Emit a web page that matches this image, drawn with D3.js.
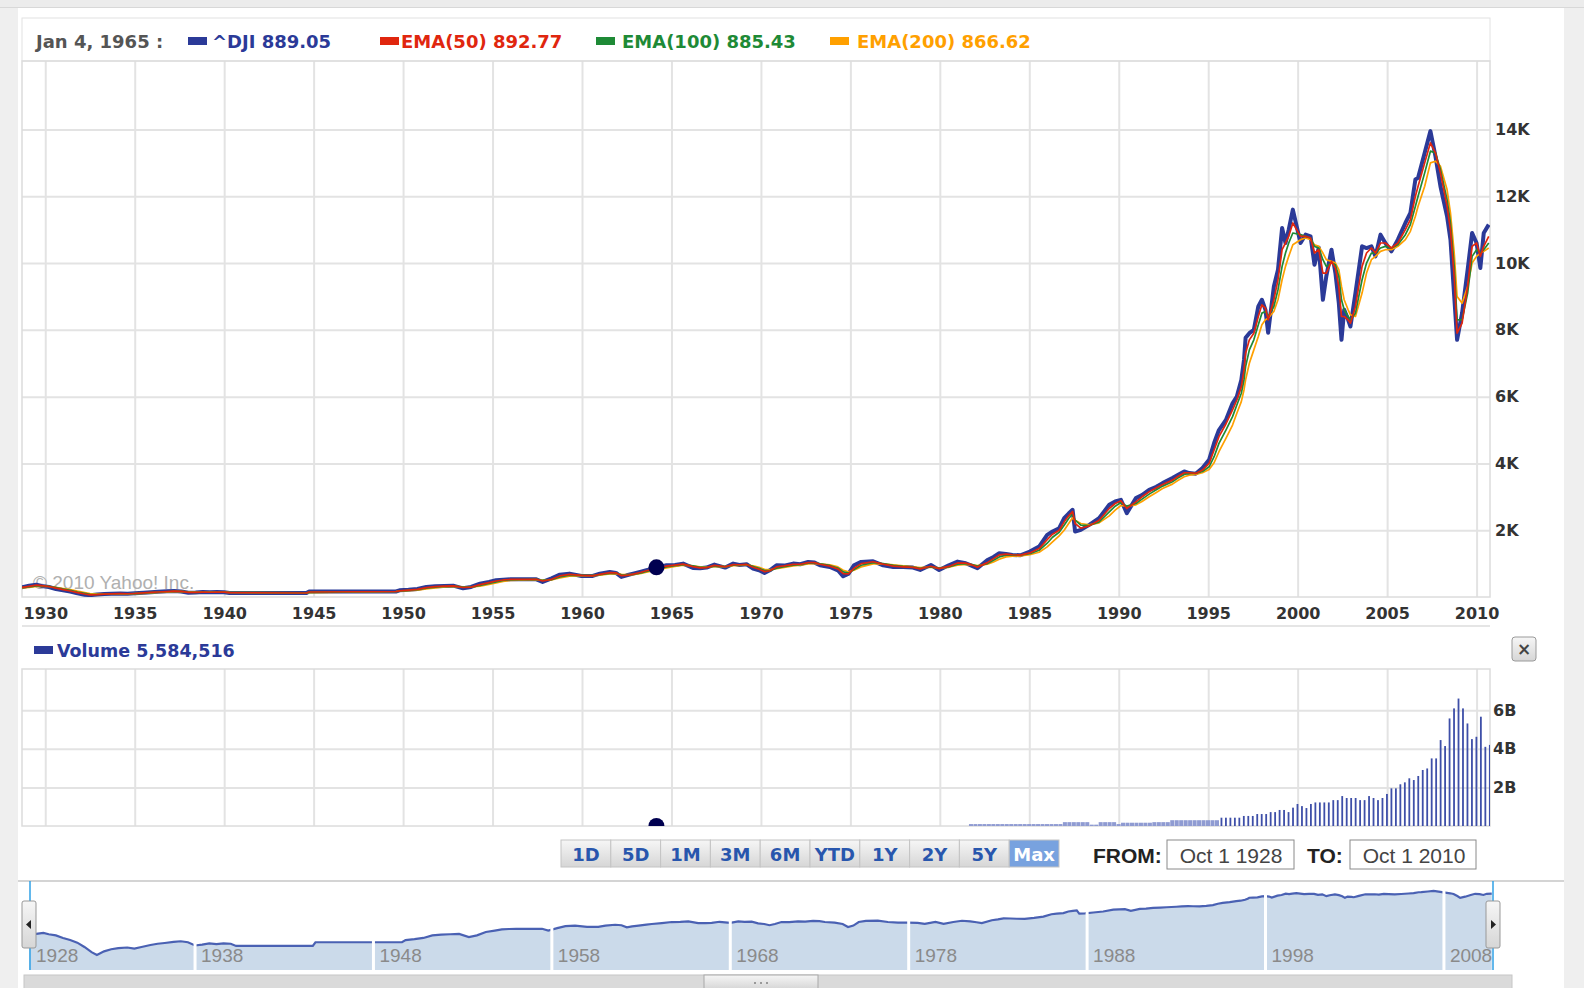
<!DOCTYPE html>
<html>
<head>
<meta charset="utf-8">
<script src="https://cdn.jsdelivr.net/npm/d3@7/dist/d3.min.js"></script>
<style>
  body { margin: 0; background: #fff; }
  svg { display: block; }
</style>
</head>
<body>
<script>
// ^DJI and its moving averages (decimal years)
var djiYears = [1928.7,1929.1,1929.5,1929.8,1930.2,1930.6,1931.0,1931.4,1931.8,1932.2,
  1932.5,1932.9,1933.3,1933.7,1934.2,1934.6,1935.0,1935.5,1935.9,1936.3,
  1936.8,1937.2,1937.6,1938.0,1938.4,1938.8,1939.2,1939.6,1940.0,1940.3,
  1944.6,1944.75,1949.6,1949.8,1950.3,1950.8,1951.3,1951.8,1952.3,1952.8,
  1953.35,1953.8,1954.3,1954.8,1955.2,1955.6,1956.0,1957.45,1957.8,1958.3,
  1958.76,1959.3,1959.97,1960.6,1961.0,1961.55,1961.9,1962.2,1962.5,1962.86,
  1963.3,1963.6,1964.16,1964.72,1965.2,1965.65,1966.2,1966.6,1966.96,1967.4,
  1968.0,1968.45,1968.8,1969.2,1969.56,1969.9,1970.2,1970.5,1970.87,1971.3,
  1971.8,1972.2,1972.64,1973.0,1973.3,1973.85,1974.3,1974.6,1974.9,1975.2,
  1975.6,1976.27,1976.83,1977.4,1977.95,1978.5,1978.9,1979.5,1979.96,1980.5,
  1980.99,1981.45,1981.8,1982.1,1982.66,1983.0,1983.32,1983.7,1984.06,1984.5,
  1985.03,1985.55,1986.0,1986.3,1986.67,1986.95,1987.2,1987.42,1987.56,1987.88,
  1988.35,1988.9,1989.47,1989.8,1990.12,1990.45,1990.96,1991.3,1991.7,1992.1,
  1992.45,1993.0,1993.3,1993.66,1993.94,1994.3,1994.68,1995.05,1995.33,1995.6,
  1995.99,1996.36,1996.6,1996.85,1997.0,1997.09,1997.3,1997.55,1997.8,1998.0,
  1998.2,1998.35,1998.67,1998.9,1999.13,1999.32,1999.5,1999.73,2000.16,2000.44,
  2000.72,2000.94,2001.18,2001.41,2001.6,2001.89,2002.11,2002.3,2002.45,2002.6,
  2002.82,2002.95,2003.23,2003.6,2003.85,2004.12,2004.35,2004.63,2004.9,2005.24,
  2005.6,2006.02,2006.3,2006.58,2006.73,2007.1,2007.42,2007.7,2007.98,2008.35,
  2008.54,2008.75,2008.91,2009.19,2009.5,2009.75,2010.0,2010.21,2010.4,2010.68];

var djiValues = [290,340,370,330,300,240,200,160,110,70,
  55,75,90,100,105,95,110,130,145,155,
  170,180,165,125,135,150,140,150,145,120,
  120,165,165,200,215,240,300,320,330,340,
  260,300,400,450,500,520,530,530,450,560,
  670,700,630,630,700,750,720,600,650,700,
  760,800,870,950,960,1000,870,860,880,970,
  880,1000,960,980,850,800,720,800,950,940,
  1000,980,1050,1030,950,900,800,620,700,950,
  1050,1070,950,900,900,880,810,960,810,950,
  1060,1010,930,860,1110,1200,1310,1290,1260,1250,
  1360,1510,1860,1960,2060,2360,2500,2610,1960,2010,
  2160,2360,2760,2860,2910,2510,2960,3050,3210,3300,
  3410,3560,3650,3760,3710,3690,3860,4110,4610,5000,
  5300,5800,6000,6500,7100,7760,7900,8000,8700,8900,
  8600,7910,9300,9800,11050,10600,11000,11600,10600,10850,
  10800,9950,10460,8900,9600,10400,9700,8800,7700,8600,
  8300,8100,9100,10500,10450,10500,10200,10850,10600,10350,
  10700,11200,11500,12500,12550,13300,13950,13200,12300,11400,
  10700,9000,7700,8500,9800,10900,10600,9850,10900,11150];

var ema50 = [285,320,355,340,315,265,220,180,130,90,
  65,70,85,95,100,97,105,122,138,150,
  163,175,168,140,136,145,142,147,146,130,
  120,150,165,185,208,230,280,310,325,335,
  285,295,370,430,480,510,525,530,480,530,
  630,680,650,635,680,730,725,640,645,685,
  740,785,850,925,955,985,910,870,878,945,
  905,970,965,975,890,830,760,785,900,930,
  975,980,1030,1030,980,925,840,700,690,860,
  1000,1055,985,925,905,885,840,920,850,915,
  1020,1015,960,895,1030,1150,1260,1285,1265,1255,
  1320,1450,1720,1880,2000,2250,2430,2560,2200,2060,
  2130,2300,2650,2800,2880,2650,2850,3000,3150,3270,
  3370,3500,3610,3720,3720,3700,3800,4000,4400,4800,
  5180,5600,5900,6300,6800,7300,7700,7900,8400,8750,
  8650,8300,8900,9500,10400,10600,10800,11200,10800,10800,
  10750,10300,10400,9700,9700,10050,9850,9300,8400,8400,
  8300,8200,8700,9900,10300,10450,10300,10600,10600,10450,
  10600,11000,11300,12000,12300,13000,13600,13300,12700,11700,
  11000,9600,7900,8200,9300,10500,10600,10200,10500,10800];

var ema100 = [280,305,335,335,320,280,240,200,150,110,
  80,75,82,92,98,97,102,115,130,143,
  157,168,167,148,140,143,142,145,145,135,
  121,140,165,178,198,220,262,295,315,328,
  300,298,345,405,455,495,515,528,495,520,
  600,655,650,640,668,710,715,665,655,675,
  720,765,830,900,940,970,930,890,885,925,
  910,950,958,968,915,860,790,790,865,910,
  955,970,1010,1020,990,945,870,750,715,820,
  950,1030,1000,945,915,895,860,900,865,900,
  985,1000,970,925,1000,1100,1200,1250,1255,1250,
  1295,1400,1610,1790,1940,2150,2350,2490,2300,2150,
  2140,2250,2550,2720,2830,2720,2800,2930,3080,3210,
  3320,3450,3560,3670,3700,3700,3760,3900,4200,4600,
  5000,5400,5750,6100,6500,6900,7400,7700,8150,8500,
  8550,8400,8700,9200,9900,10300,10600,10900,10850,10800,
  10750,10500,10450,10100,9900,10000,9950,9600,8900,8600,
  8400,8300,8500,9500,10000,10300,10300,10450,10500,10450,
  10550,10850,11150,11700,12000,12700,13350,13300,12800,11900,
  11200,9900,8300,8300,9100,10200,10400,10300,10400,10600];

var ema200 = [270,290,315,320,315,290,255,220,175,135,
  100,90,88,92,96,96,100,110,122,135,
  148,160,162,152,145,145,143,144,144,138,
  122,132,164,172,188,208,242,275,300,318,
  305,300,325,375,425,470,500,522,505,515,
  570,625,640,638,655,690,700,680,668,672,
  705,745,805,870,915,950,935,905,895,915,
  910,935,945,958,930,890,830,815,850,885,
  930,955,990,1005,995,960,900,800,755,800,
  900,990,995,960,930,905,880,895,875,890,
  950,975,965,940,980,1050,1130,1200,1220,1230,
  1265,1340,1500,1650,1830,2000,2200,2370,2300,2200,
  2160,2220,2430,2600,2740,2720,2760,2860,3000,3130,
  3250,3380,3490,3600,3650,3670,3720,3820,4020,4350,
  4750,5150,5500,5850,6200,6500,7000,7400,7800,8150,
  8300,8350,8550,8900,9500,9900,10200,10550,10700,10750,
  10700,10550,10500,10300,10100,10050,10000,9800,9300,8900,
  8600,8450,8400,9100,9700,10100,10200,10350,10400,10400,
  10500,10700,10950,11400,11700,12300,13000,13050,12900,12200,
  11500,10300,9000,8800,9300,10000,10200,10300,10350,10450];

var yearTicks = [1930,1935,1940,1945,1950,1955,1960,1965,1970,1975,1980,1985,1990,1995,2000,2005,2010];
var priceTicks = [2000,4000,6000,8000,10000,12000,14000];

// quarterly volume bars (billions of shares), first bar at volStart
var volStart = 1981.74;
var volValues = [0.1,0.1,0.1,0.1,0.1,0.1,0.1,0.1,0.1,0.1,
  0.1,0.1,0.1,0.1,0.1,0.1,0.1,0.1,0.1,0.1,
  0.1,0.2,0.2,0.2,0.2,0.2,0.2,0.07,0.07,0.2,
  0.2,0.2,0.2,0.1,0.17,0.17,0.17,0.17,0.17,0.17,
  0.17,0.2,0.2,0.2,0.2,0.3,0.3,0.3,0.3,0.3,
  0.3,0.3,0.3,0.3,0.3,0.3,
  0.43,0.43,0.43,0.43,0.43,0.52,0.52,0.52,0.62,0.62,
  0.62,0.72,0.72,0.83,0.83,0.72,0.95,1.14,1.03,0.93,
  1.14,1.22,1.22,1.22,1.22,1.34,1.34,1.55,1.45,1.45,
  1.45,1.34,1.34,1.55,1.45,1.34,1.45,1.66,1.95,1.95,
  2.16,2.26,2.47,2.38,2.59,2.9,2.98,3.5,3.5,4.45,
  4.14,5.57,6.09,6.6,6.09,5.31,4.5,4.62,5.66,4.1,4.2];
var volTicks = [2,4,6];

var seriesNames = ["^DJI", "EMA(50)", "EMA(100)", "EMA(200)"];
var seriesLabels = ["889.05", "892.77", "885.43", "866.62"];
var seriesColors = ["#2b3a98", "#e0260e", "#1e8a36", "#ffa000"];

var hoverDate = "Jan 4, 1965";
var hoverYear = 1964.16;
var hoverValue = 889.05;
var hoverVolume = "5,584,516";

var rangeButtons = ["1D","5D","1M","3M","6M","YTD","1Y","2Y","5Y","Max"];
var fromDate = "Oct 1 1928";
var toDate = "Oct 1 2010";
var navYears = [1928,1938,1948,1958,1968,1978,1988,1998,2008];

(function() {
  var width = 1584;
  var height = 988;
  var boldFont = "'DejaVu Sans', Verdana, sans-serif";
  var plainFont = "'Liberation Sans', Arial, sans-serif";

  var svg = d3.select("body").append("svg")
    .attr("width", width)
    .attr("height", height);

  var defs = svg.append("defs");
  var grad = defs.append("linearGradient").attr("id", "btn").attr("x1", 0).attr("x2", 0).attr("y1", 0).attr("y2", 1);
  grad.append("stop").attr("offset", "0%").attr("stop-color", "#f6f6f6");
  grad.append("stop").attr("offset", "100%").attr("stop-color", "#d6d6d6");

  // page frame
  svg.append("rect").attr("x", 0).attr("y", 0).attr("width", 18).attr("height", height).attr("fill", "#efefef");
  svg.append("rect").attr("x", 1564).attr("y", 0).attr("width", 20).attr("height", height).attr("fill", "#efefef");
  svg.append("rect").attr("x", 0).attr("y", 0).attr("width", width).attr("height", 7).attr("fill", "#ececec");
  svg.append("line").attr("x1", 0).attr("x2", width).attr("y1", 7.5).attr("y2", 7.5).attr("stroke", "#d8d8d8");

  var left = 22, right = 1490;
  var top = 61, bottom = 597;

  var x = d3.scaleLinear().domain([1928.7, 2010.75]).range([left, right]);
  var y = d3.scaleLinear().domain([0, 16050]).range([bottom, top]);

  // header legend box
  svg.append("rect").attr("x", left).attr("y", 18).attr("width", right - left).attr("height", top - 18)
    .attr("fill", "#fff").attr("stroke", "#e2e2e2");

  var header = svg.append("g").attr("font-family", boldFont).attr("font-weight", "bold").attr("font-size", 18);
  header.append("text").attr("x", 36).attr("y", 48).attr("fill", "#555").text(hoverDate + " :");
  var legendX = [188, 380, 596, 830];
  var legendTextX = [212, 401, 622, 857];
  seriesNames.forEach(function(name, i) {
    header.append("rect").attr("x", legendX[i]).attr("y", 37).attr("width", 19).attr("height", 8).attr("fill", seriesColors[i]);
    header.append("text").attr("x", legendTextX[i]).attr("y", 48).attr("fill", seriesColors[i])
      .text(name + " " + seriesLabels[i]);
  });

  // price grid
  var grid = svg.append("g").attr("class", "grid");
  grid.append("g").attr("transform", "translate(0," + bottom + ")")
    .call(d3.axisBottom(x).tickValues(yearTicks).tickSize(-(bottom - top)).tickFormat(""));
  grid.append("g").attr("transform", "translate(" + left + ",0)")
    .call(d3.axisRight(y).tickValues(priceTicks).tickSize(right - left).tickFormat(""));
  grid.selectAll(".domain").remove();
  grid.selectAll("line").attr("stroke", "#e3e3e3").attr("stroke-width", 2);

  svg.append("rect").attr("x", left).attr("y", top).attr("width", right - left).attr("height", bottom - top)
    .attr("fill", "none").attr("stroke", "#dcdcdc").attr("stroke-width", 1.5);

  svg.append("text").attr("x", 33).attr("y", 589).attr("font-family", plainFont).attr("font-size", 19)
    .attr("fill", "#b0b0b0").text("\u00a9 2010 Yahoo! Inc.");

  // price lines
  defs.append("clipPath").attr("id", "plotClip").append("rect")
    .attr("x", left).attr("y", top).attr("width", right - left).attr("height", bottom - top);
  var plot = svg.append("g").attr("clip-path", "url(#plotClip)");

  var series = [djiValues, ema50, ema100, ema200];
  var widths = [4, 1.7, 1.7, 1.7];
  var order = [0, 3, 2, 1];
  order.forEach(function(s) {
    var line = d3.line()
      .x(function(d, i) { return x(djiYears[i]); })
      .y(function(d) { return y(d); });
    plot.append("path").datum(series[s])
      .attr("d", line)
      .attr("fill", "none")
      .attr("stroke", seriesColors[s])
      .attr("stroke-width", widths[s])
      .attr("stroke-linejoin", "round");
  });

  plot.append("circle").attr("cx", x(hoverYear)).attr("cy", y(hoverValue)).attr("r", 8).attr("fill", "#000050");

  // y labels
  var yAxis = svg.append("g").attr("transform", "translate(" + (right + 3) + ",0)")
    .call(d3.axisRight(y).tickValues(priceTicks).tickSize(0).tickPadding(2)
      .tickFormat(function(d) { return (d / 1000) + "K"; }));
  yAxis.select(".domain").remove();
  yAxis.selectAll("text").attr("font-family", boldFont).attr("font-weight", "bold").attr("font-size", 16).attr("fill", "#333");

  // year labels band
  var xAxis = svg.append("g").attr("transform", "translate(0," + bottom + ")")
    .call(d3.axisBottom(x).tickValues(yearTicks).tickSize(0).tickPadding(11).tickFormat(d3.format("d")));
  xAxis.select(".domain").remove();
  xAxis.selectAll("text").attr("font-family", boldFont).attr("font-weight", "bold").attr("font-size", 16).attr("fill", "#333");
  svg.append("line").attr("x1", left).attr("x2", right).attr("y1", 626).attr("y2", 626).attr("stroke", "#dcdcdc").attr("stroke-width", 1.5);

  // volume panel
  var vTop = 669, vBottom = 826;
  var yv = d3.scaleLinear().domain([0, 8.13]).range([vBottom, vTop]);

  svg.append("rect").attr("x", 34).attr("y", 646).attr("width", 19).attr("height", 8).attr("fill", "#2b3a98");
  svg.append("text").attr("x", 57).attr("y", 657).attr("font-family", boldFont).attr("font-weight", "bold")
    .attr("font-size", 17.5).attr("fill", "#2b3a98").text("Volume " + hoverVolume);

  var vgrid = svg.append("g");
  vgrid.append("g").attr("transform", "translate(0," + vBottom + ")")
    .call(d3.axisBottom(x).tickValues(yearTicks).tickSize(-(vBottom - vTop)).tickFormat(""));
  vgrid.append("g").attr("transform", "translate(" + left + ",0)")
    .call(d3.axisRight(yv).tickValues(volTicks).tickSize(right - left).tickFormat(""));
  vgrid.selectAll(".domain").remove();
  vgrid.selectAll("line").attr("stroke", "#e3e3e3").attr("stroke-width", 2);
  svg.append("rect").attr("x", left).attr("y", vTop).attr("width", right - left).attr("height", vBottom - vTop)
    .attr("fill", "none").attr("stroke", "#dcdcdc").attr("stroke-width", 1.5);

  defs.append("clipPath").attr("id", "volClip").append("rect")
    .attr("x", left).attr("y", vTop).attr("width", right - left).attr("height", vBottom - vTop);
  var vplot = svg.append("g").attr("clip-path", "url(#volClip)");
  var step = x(volStart + 0.25) - x(volStart);
  vplot.selectAll("rect.vol").data(volValues).enter().append("rect")
    .attr("class", "vol")
    .attr("x", function(d, i) {
      var w = d < 0.4 ? step * 0.9 : 1.8;
      return x(volStart + i * 0.25) - w / 2;
    })
    .attr("width", function(d) { return d < 0.4 ? step * 0.9 : 1.8; })
    .attr("y", function(d) { return yv(d); })
    .attr("height", function(d) { return vBottom - yv(d); })
    .attr("fill", function(d) { return d < 0.4 ? "#8f9bd2" : "#3e4fa8"; });
  vplot.append("circle").attr("cx", x(hoverYear)).attr("cy", vBottom).attr("r", 8).attr("fill", "#000050");

  var vAxis = svg.append("g").attr("transform", "translate(" + (right + 3) + ",0)")
    .call(d3.axisRight(yv).tickValues(volTicks).tickSize(0).tickPadding(0)
      .tickFormat(function(d) { return d + "B"; }));
  vAxis.select(".domain").remove();
  vAxis.selectAll("text").attr("font-family", boldFont).attr("font-weight", "bold").attr("font-size", 16).attr("fill", "#333");

  // close button
  svg.append("rect").attr("x", 1512).attr("y", 637).attr("width", 24).attr("height", 24).attr("rx", 3)
    .attr("fill", "url(#btn)").attr("stroke", "#9a9a9a");
  svg.append("text").attr("x", 1524).attr("y", 655).attr("text-anchor", "middle").attr("font-family", boldFont)
    .attr("font-weight", "bold").attr("font-size", 17).attr("fill", "#444").text("\u00d7");

  // range buttons
  var bx = d3.scaleBand().domain(rangeButtons).range([561, 1059]);
  var btn = svg.append("g").selectAll("g").data(rangeButtons).enter().append("g")
    .attr("transform", function(d) { return "translate(" + bx(d) + ",840)"; });
  btn.append("rect").attr("width", bx.bandwidth()).attr("height", 27)
    .attr("fill", function(d) { return d === "Max" ? "#78a2df" : "url(#btn)"; })
    .attr("stroke", "#c4c4c4");
  btn.append("text").attr("x", bx.bandwidth() / 2).attr("y", 21).attr("text-anchor", "middle")
    .attr("font-family", boldFont).attr("font-weight", "bold").attr("font-size", 18)
    .attr("fill", function(d) { return d === "Max" ? "#fff" : "#2856ad"; })
    .text(function(d) { return d; });

  var dates = svg.append("g").attr("font-family", plainFont);
  dates.append("text").attr("x", 1093).attr("y", 863).attr("font-weight", "bold").attr("font-size", 21).attr("fill", "#222").text("FROM:");
  dates.append("rect").attr("x", 1167).attr("y", 840).attr("width", 127).attr("height", 29).attr("fill", "#fff").attr("stroke", "#8a8a8a");
  dates.append("text").attr("x", 1231).attr("y", 863).attr("text-anchor", "middle").attr("font-size", 21).attr("fill", "#444").text(fromDate);
  dates.append("text").attr("x", 1307).attr("y", 863).attr("font-weight", "bold").attr("font-size", 21).attr("fill", "#222").text("TO:");
  dates.append("rect").attr("x", 1350).attr("y", 840).attr("width", 126).attr("height", 29).attr("fill", "#fff").attr("stroke", "#8a8a8a");
  dates.append("text").attr("x", 1414).attr("y", 863).attr("text-anchor", "middle").attr("font-size", 21).attr("fill", "#444").text(toDate);

  // navigator
  var nTop = 881, nBottom = 970;
  var xn = d3.scaleLinear().domain([1928.75, 2010.75]).range([30, 1493]);
  var yn = d3.scaleLog().domain([15, 33000]).range([nBottom, nTop]);

  svg.append("line").attr("x1", 18).attr("x2", 1564).attr("y1", nTop).attr("y2", nTop).attr("stroke", "#d4d4d4").attr("stroke-width", 2);

  var area = d3.area()
    .x(function(d, i) { return xn(djiYears[i]); })
    .y0(nBottom)
    .y1(function(d) { return yn(d); });
  var nline = d3.line()
    .x(function(d, i) { return xn(djiYears[i]); })
    .y(function(d) { return yn(d); });
  svg.append("path").datum(djiValues).attr("d", area).attr("fill", "#cbdaea");
  svg.append("path").datum(djiValues).attr("d", nline).attr("fill", "none").attr("stroke", "#4a61b3").attr("stroke-width", 2.2);

  svg.append("g").selectAll("line").data(navYears.slice(1)).enter().append("line")
    .attr("x1", function(d) { return xn(d); }).attr("x2", function(d) { return xn(d); })
    .attr("y1", nTop + 2).attr("y2", nBottom).attr("stroke", "#fff").attr("stroke-width", 3);
  svg.append("g").selectAll("text").data(navYears).enter().append("text")
    .attr("x", function(d) { return Math.max(xn(d), xn.range()[0]) + 6; })
    .attr("y", 962)
    .attr("font-family", plainFont).attr("font-size", 19).attr("fill", "#8a8a8a")
    .text(function(d) { return d; });

  xn.range().forEach(function(px) {
    svg.append("line").attr("x1", px).attr("x2", px).attr("y1", nTop).attr("y2", nBottom)
      .attr("stroke", "#2fa0e6").attr("stroke-width", 1.5);
  });

  [[22, "l"], [1486, "r"]].forEach(function(h) {
    var g = svg.append("g").attr("transform", "translate(" + h[0] + ",901)");
    g.append("rect").attr("width", 14).attr("height", 47).attr("rx", 2).attr("fill", "url(#btn)").attr("stroke", "#999");
    g.append("path").attr("d", h[1] === "l" ? "M4,23.5 L9,19 L9,28 Z" : "M10,23.5 L5,19 L5,28 Z").attr("fill", "#222");
  });

  // scrollbar
  svg.append("rect").attr("x", 24).attr("y", 975).attr("width", 1488).attr("height", 14).attr("fill", "#dadada").attr("stroke", "#c6c6c6");
  svg.append("rect").attr("x", 704).attr("y", 975).attr("width", 114).attr("height", 14).attr("fill", "url(#btn)").attr("stroke", "#a8a8a8");
  [-6, 0, 6].forEach(function(o) {
    svg.append("rect").attr("x", 760 + o).attr("y", 982).attr("width", 2).attr("height", 2).attr("fill", "#999");
  });
})();
</script>
</body>
</html>
